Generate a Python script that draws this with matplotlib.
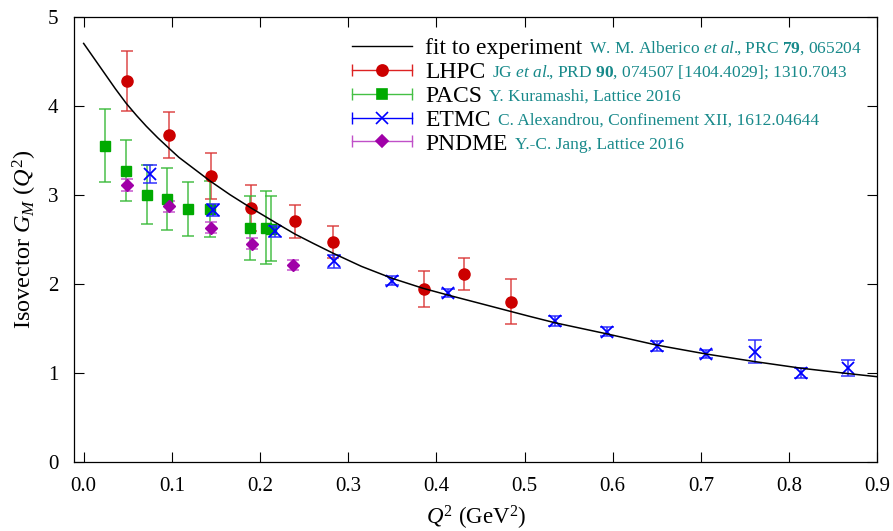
import matplotlib
matplotlib.use('Agg')
import matplotlib.pyplot as plt
from matplotlib.lines import Line2D
from matplotlib.legend_handler import HandlerBase
import numpy as np

plt.rcParams['font.family'] = ['Liberation Serif', 'DejaVu Serif']
plt.rcParams['mathtext.fontset'] = 'custom'
plt.rcParams['mathtext.rm'] = 'Liberation Serif'
plt.rcParams['mathtext.it'] = 'Liberation Serif:italic'
plt.rcParams['mathtext.bf'] = 'Liberation Serif:bold'

# fit to experiment
fit_q2 = [0.0, 0.012, 0.024, 0.036, 0.048, 0.06, 0.071, 0.084, 0.097, 0.108, 0.12,
          0.132, 0.144, 0.166, 0.19, 0.2226, 0.2396, 0.26, 0.283, 0.315, 0.35,
          0.385, 0.413, 0.449, 0.476, 0.505, 0.535, 0.594, 0.65, 0.706,
          0.761, 0.814, 0.867, 0.9]
fit_gm = [4.70, 4.53, 4.36, 4.19, 4.03, 3.89, 3.77, 3.64, 3.52, 3.42, 3.33,
          3.24, 3.15, 3.00, 2.85, 2.657, 2.558, 2.455, 2.342, 2.195, 2.06,
          1.948, 1.873, 1.78, 1.71, 1.635, 1.56, 1.435, 1.31, 1.21,
          1.125, 1.05, 0.99, 0.955]

# LHPC
lhpc_q2 = [0.0488, 0.097, 0.144, 0.190, 0.2396, 0.283, 0.386, 0.4316, 0.4845]
lhpc_gm = [4.28, 3.67, 3.21, 2.85, 2.70, 2.47, 1.94, 2.11, 1.80]
lhpc_err = [0.34, 0.26, 0.26, 0.26, 0.19, 0.18, 0.20, 0.18, 0.25]

# PACS
pacs_q2 = [0.024, 0.048, 0.072, 0.095, 0.1186, 0.143, 0.1886, 0.2067, 0.213]
pacs_gm = [3.55, 3.27, 3.00, 2.95, 2.84, 2.84, 2.63, 2.63, 2.62]
pacs_err = [0.41, 0.34, 0.33, 0.345, 0.305, 0.31, 0.36, 0.41, 0.36]

# ETMC
etmc_q2 = [0.0752, 0.147, 0.217, 0.284, 0.350, 0.4134, 0.535, 0.5937, 0.650,
           0.706, 0.761, 0.814, 0.867]
etmc_gm = [3.23, 2.83, 2.59, 2.25, 2.034, 1.90, 1.58, 1.46, 1.30,
           1.21, 1.236, 1.00, 1.05]
etmc_err = [0.10, 0.065, 0.06, 0.075, 0.05, 0.045, 0.055, 0.05, 0.055,
            0.05, 0.13, 0.055, 0.09]

# PNDME
pndme_q2 = [0.0488, 0.0967, 0.144, 0.1908, 0.237]
pndme_gm = [3.11, 2.87, 2.63, 2.45, 2.21]
pndme_err = [0.07, 0.06, 0.06, 0.065, 0.06]

labels = ['fit to experiment', 'LHPC', 'PACS', 'ETMC', 'PNDME']
cites = [r'W. M. Alberico $\mathit{et\ al.}\!\!$, PRC $\mathbf{79}$, 065204',
         r'JG $\mathit{et\ al.}\!\!$, PRD $\mathbf{90}$, 074507 [1404.4029]; 1310.7043',
         'Y. Kuramashi, Lattice 2016',
         'C. Alexandrou, Confinement XII, 1612.04644',
         'Y.-C. Jang, Lattice 2016']
teal = '#17898a'


class CapHandler(HandlerBase):
    def create_artists(self, legend, orig_handle, xdescent, ydescent,
                       width, height, fontsize, trans):
        y = height / 2 - ydescent
        x0, x1 = -xdescent, width - xdescent
        col = orig_handle.get_color()
        out = [Line2D([x0, x1], [y, y], color=col, lw=1.0, transform=trans)]
        if orig_handle.get_marker() not in (None, 'None', ''):
            out.append(Line2D([x0, x1], [y, y], ls='none', marker='|', ms=8,
                              mew=1.0, color=col, transform=trans))
            mc = orig_handle.get_markerfacecolor()
            out.append(Line2D([(x0 + x1) / 2], [y], ls='none',
                              marker=orig_handle.get_marker(),
                              ms=orig_handle.get_markersize(), mfc=mc, mec=mc,
                              mew=1.2, transform=trans))
        return out


fig = plt.figure(figsize=(8.93, 5.31), dpi=100)
ax = fig.add_axes([0.0832, 0.1305, 0.8992, 0.838])

ax.plot(fit_q2, fit_gm, color='black', lw=1.1, zorder=5)

ax.errorbar(lhpc_q2, lhpc_gm, yerr=lhpc_err, fmt='o', ms=8, color='#cc0000',
            ecolor=(0.85, 0.2, 0.2, 0.75), elinewidth=1.3, capsize=4, capthick=1.3, zorder=3)
ax.errorbar(pacs_q2, pacs_gm, yerr=pacs_err, fmt='s', ms=7, color='#00aa00',
            ecolor=(0.2, 0.72, 0.2, 0.75), elinewidth=1.3, capsize=4, capthick=1.3, zorder=3)
ax.errorbar(etmc_q2, etmc_gm, yerr=etmc_err, fmt='x', ms=8, mew=1.3, color='#0000ff',
            ecolor=(0.15, 0.15, 1.0, 0.8), elinewidth=1.3, capsize=5, capthick=1.3, zorder=4)
ax.errorbar(pndme_q2, pndme_gm, yerr=pndme_err, fmt='D', ms=6, color='#a000a8',
            ecolor=(0.75, 0.25, 0.78, 0.75), elinewidth=1.3, capsize=4, capthick=1.3, zorder=3)

handles = [Line2D([], [], color='black'),
           Line2D([], [], color='#dd2222', marker='o', ms=8, mfc='#cc0000'),
           Line2D([], [], color='#44c044', marker='s', ms=7, mfc='#00aa00'),
           Line2D([], [], color='#0000ff', marker='x', ms=8, mfc='#0000ff'),
           Line2D([], [], color='#c050c8', marker='D', ms=6, mfc='#a000a8')]
leg = ax.legend(handles, labels, handler_map={Line2D: CapHandler()},
                loc='upper left', bbox_to_anchor=(0.3458, 0.953), frameon=False,
                fontsize=17, handlelength=2.55, handletextpad=0.55,
                labelspacing=0.1, borderaxespad=0, borderpad=0)

ax.set_xlim(-0.0106, 0.9)
ax.set_ylim(0, 5)
ax.set_xticks(np.arange(0, 0.91, 0.1))
ax.set_xticklabels(['0.0', '0.1', '0.2', '0.3', '0.4', '0.5', '0.6', '0.7', '0.8', '0.9'])
ax.set_yticks(range(6))
ax.tick_params(direction='in', length=7, width=0.8, top=True, right=True, labelsize=15)
ax.tick_params(axis='x', pad=11)
ax.tick_params(axis='y', pad=11.5)
for s in ax.spines.values():
    s.set_linewidth(0.9)

ax.set_xlabel(r'$Q^2$ (GeV$^2$)', fontsize=16.5, labelpad=6)
ax.set_ylabel(r'Isovector $G_M\ (Q^2)$', fontsize=17.5, labelpad=6)

# teal citations after each legend label
fig.canvas.draw()
rend = fig.canvas.get_renderer()
W, H = fig.bbox.width, fig.bbox.height
for t, c in zip(leg.get_texts(), cites):
    bb = t.get_window_extent(rend)
    fig.text((bb.x1 + 7) / W, (bb.y0 + 2) / H, c, ha='left', va='bottom',
             color=teal, fontsize=12.5)

fig.savefig('out.png', dpi=100)
